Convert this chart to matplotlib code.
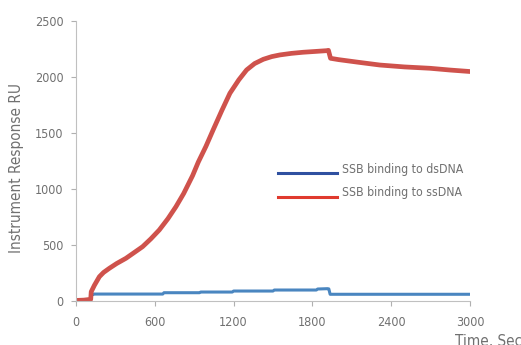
import matplotlib
matplotlib.use('Agg')
import matplotlib.pyplot as plt

# sensorgram readings (time in s, response in RU)
ss_time = [0, 60, 112, 116, 140, 178, 210, 254, 310, 380, 440, 507, 570,
           634, 700, 761, 820, 888, 931, 989, 1045, 1110, 1172, 1240, 1299,
           1360, 1426, 1490, 1552, 1640, 1730, 1820, 1908, 1922, 1938, 2000,
           2160, 2313, 2500, 2694, 2850, 3010]
ss_resp = [5, 8, 15, 83, 140, 217, 255, 292, 335, 381, 430, 485, 555,
           634, 735, 842, 960, 1120, 1240, 1380, 1530, 1700, 1855, 1975, 2063,
           2120, 2158, 2182, 2197, 2211, 2221, 2228, 2235, 2238, 2167, 2155,
           2130, 2107, 2090, 2078, 2062, 2048]

ds_time = [124, 130, 660, 670, 940, 950, 1190, 1200, 1500, 1510, 1830, 1840,
           1915, 1925, 1935, 3010]
ds_resp = [50, 62, 62, 74, 74, 80, 80, 89, 89, 98, 98, 107, 110, 108, 60, 60]

x_ticks = [0, 600, 1200, 1800, 2400, 3000]
y_ticks = [0, 500, 1000, 1500, 2000, 2500]

grey = '#707070'
plt.rcParams['font.family'] = ['DejaVu Sans']
plt.rcParams['font.stretch'] = 'condensed'

fig = plt.figure(figsize=(5.21, 3.45), dpi=100)
ax = fig.add_axes([76 / 521, 1 - 301 / 345, 394 / 521, 280 / 345])

ax.plot(ds_time, ds_resp, color='#4a86c0', lw=2.2, solid_capstyle='butt')
ax.plot(ss_time, ss_resp, color='#cf524c', lw=3.4, solid_capstyle='butt',
        solid_joinstyle='round')

ax.set_xlim(0, 3000)
ax.set_ylim(0, 2500)
ax.set_xticks(x_ticks)
ax.set_yticks(y_ticks)
ax.tick_params(colors='#b0b0b0', labelcolor=grey, labelsize=9, length=3.6,
               width=0.8, pad=5.5)
ax.tick_params(axis='x', pad=7)
for side in ['top', 'right']:
    ax.spines[side].set_visible(False)
for side in ['left', 'bottom']:
    ax.spines[side].set_color('#c0c0c0')
    ax.spines[side].set_linewidth(0.8)

ax.set_ylabel('Instrument Response RU', color=grey, fontsize=11)
ax.yaxis.set_label_coords(-0.132, 0.475)

# legend drawn by hand so the swatches keep their own colours
lg_lines = [('SSB binding to dsDNA', '#2f50a0', 173, 170),
            ('SSB binding to ssDNA', '#e03a2e', 197, 193)]
for label, colour, line_y, text_y in lg_lines:
    fig.add_artist(plt.Line2D([278 / 521, 337 / 521],
                              [1 - line_y / 345, 1 - line_y / 345],
                              color=colour, lw=2.2))
    fig.text(342 / 521, 1 - text_y / 345, label, color=grey,
             fontsize=8.8, va='center', ha='left')

fig.text(455 / 521, 1 - 334 / 345, 'Time, Sec', color=grey, fontsize=11,
         va='top', ha='left')

fig.savefig('out.png', dpi=100)
plt.close()
